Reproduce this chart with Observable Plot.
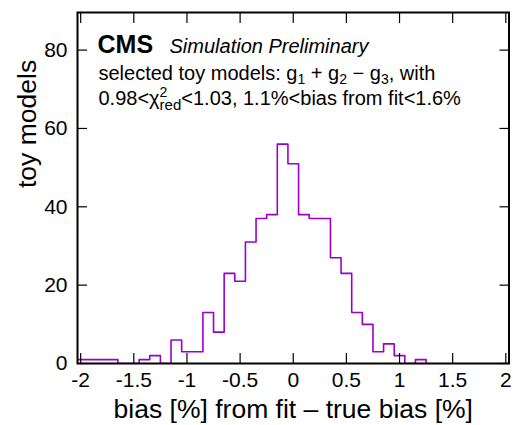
<!DOCTYPE html>
<html>
<head>
<meta charset="utf-8">
<script src="https://cdn.jsdelivr.net/npm/d3@7"></script>
<script src="https://cdn.jsdelivr.net/npm/@observablehq/plot@0.6"></script>
<style>
  body { margin: 0; background: #fff; }
  #chart svg { display: block; }
</style>
</head>
<body>
<div id="chart"></div>
<script>
// ---- data ----
const binCenters = [-2.0, -1.9, -1.8, -1.7, -1.6, -1.5, -1.4, -1.3, -1.2, -1.1, -1.0, -0.9, -0.8, -0.7,
  -0.6, -0.5, -0.4, -0.3, -0.2, -0.1, 0.0, 0.1, 0.2, 0.3, 0.4, 0.5, 0.6, 0.7, 0.8, 0.9, 1.0, 1.1, 1.2];
const counts = [1, 1, 1, 1, 0, 0, 1, 2, 0, 6, 3, 3, 13, 8,
  23, 21, 31, 37, 38, 56, 51, 38, 37, 37, 27, 23, 13, 10, 3, 5, 2, 0, 1];
const binWidth = 0.1;
const xTicks = [-2, -1.5, -1, -0.5, 0, 0.5, 1, 1.5, 2];
const yTicks = [0, 20, 40, 60, 80];
const xTitle = "bias [%] from fit – true bias [%]";
const yTitle = "toy models";
const cmsLabel = "CMS";
const cmsExtra = "Simulation Preliminary";
const line1Parts = [["selected toy models: g"], ["1", "sub"], [" + g"], ["2", "sub"], [" − g"], ["3", "sub"], [", with"]];
const line2Parts = [["0.98<χ"], ["2", "sup"], ["red", "subAfterSup"], ["<1.03, 1.1%<bias from fit<1.6%"]];

// histogram outline points (step-after)
const steps = [{x: binCenters[0] - binWidth / 2, y: 0}];
binCenters.forEach((c, i) => steps.push({x: c - binWidth / 2, y: counts[i]}));
steps.push({x: binCenters[binCenters.length - 1] + binWidth / 2, y: 0});

const font = "'Liberation Sans', Arial, Helvetica, sans-serif";
const line1Text = line1Parts.map(p => p[0]).join("");
const line2Text = line2Parts.map(p => p[0]).join("");

const plot = Plot.plot({
  width: 513,
  height: 425,
  marginLeft: 77,
  marginRight: 4.5,
  marginTop: 12,
  marginBottom: 62,
  style: {fontFamily: font, background: "white", color: "black", overflow: "visible"},
  x: {domain: [-2.03, 2.03]},
  y: {domain: [0, 89.6]},
  marks: [
    Plot.line(steps, {x: "x", y: "y", curve: "step-after", stroke: "#9900cc", strokeWidth: 1.6, clip: true}),
    // tick labels
    Plot.axisX(xTicks, {anchor: "bottom", tickSize: 0, tickPadding: 9, fontSize: 21, tickFormat: d => String(d), label: null}),
    Plot.axisY(yTicks, {anchor: "left", tickSize: 0, tickPadding: 10, fontSize: 21, tickFormat: d => String(d), label: null}),
    // inward ticks on all four sides
    Plot.axisX(xTicks, {anchor: "bottom", tickSize: 10, insetBottom: 10, fill: "none", label: null, strokeWidth: 1.2}),
    Plot.axisX(xTicks, {anchor: "top", tickSize: 10, insetTop: 10, fill: "none", label: null, strokeWidth: 1.2}),
    Plot.axisY(yTicks, {anchor: "left", tickSize: 10, insetLeft: 10, fill: "none", label: null, strokeWidth: 1.2}),
    Plot.axisY(yTicks, {anchor: "right", tickSize: 10, insetRight: 10, fill: "none", label: null, strokeWidth: 1.2}),
    Plot.frame({stroke: "black", strokeWidth: 2}),
    // axis titles
    Plot.text([xTitle], {frameAnchor: "bottom", lineAnchor: "bottom", dy: 54.5, fontSize: 26.5, fill: "black"}),
    Plot.text([yTitle], {frameAnchor: "left", lineAnchor: "bottom", rotate: -90, dx: -42, fontSize: 26.5, fill: "black"}),
    // info box
    Plot.text([cmsLabel], {frameAnchor: "top-left", textAnchor: "start", lineAnchor: "bottom", dx: 20, dy: 40, fontSize: 25, fontWeight: "bold", fill: "black"}),
    Plot.text([cmsExtra], {frameAnchor: "top-left", textAnchor: "start", lineAnchor: "bottom", dx: 92, dy: 40, fontSize: 20, fontStyle: "italic", fill: "black"}),
    Plot.text([line1Text], {frameAnchor: "top-left", textAnchor: "start", lineAnchor: "bottom", dx: 21, dy: 67.3, fontSize: 20, fill: "black"}),
    Plot.text([line2Text], {frameAnchor: "top-left", textAnchor: "start", lineAnchor: "bottom", dx: 21, dy: 92, fontSize: 20, fill: "black"})
  ]
});

// rebuild the info lines with sub/superscripts as real tspans
function richText(node, parts) {
  const sel = d3.select(node);
  sel.text(null);
  let shift = 0;
  parts.forEach(([txt, kind]) => {
    const t = sel.append("tspan").text(txt);
    if (kind === "sub") {
      t.attr("font-size", 14).attr("dy", 4 - shift); shift = 4;
    } else if (kind === "sup") {
      t.attr("font-size", 14).attr("dy", -8 - shift); shift = -8;
    } else if (kind === "subAfterSup") {
      t.attr("font-size", 15).attr("dx", -7.8).attr("dy", 5 - shift); shift = 5;
    } else {
      if (shift !== 0) t.attr("dy", -shift);
      shift = 0;
    }
  });
}
d3.select(plot).selectAll("text").each(function () {
  const t = this.textContent;
  if (t === line1Text) richText(this, line1Parts);
  else if (t === line2Text) richText(this, line2Parts);
});

document.getElementById("chart").appendChild(plot);
</script>
</body>
</html>
